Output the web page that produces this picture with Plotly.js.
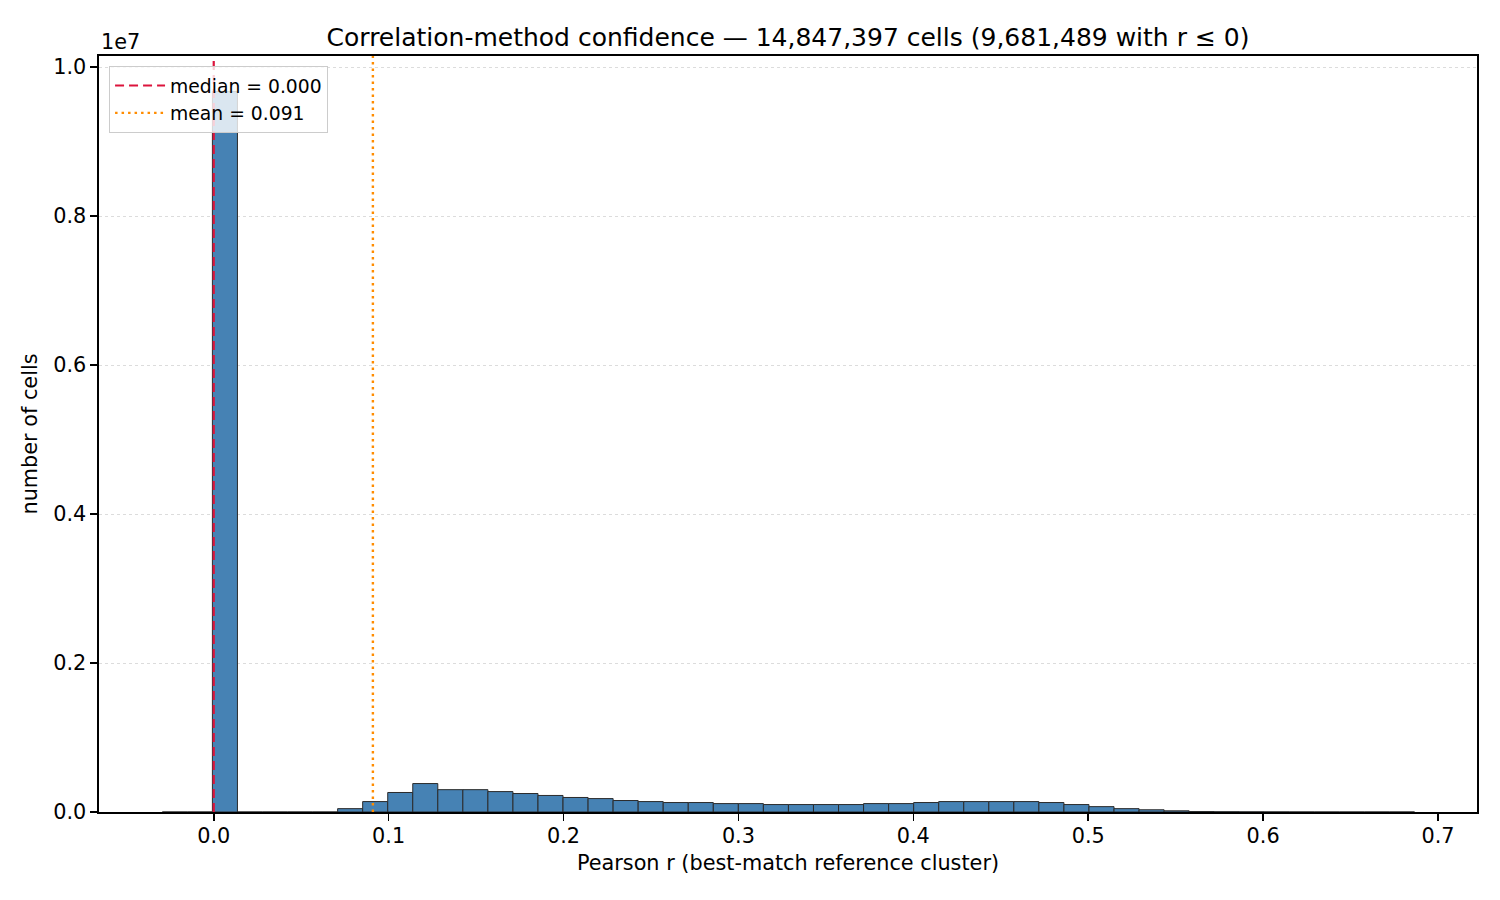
<!DOCTYPE html>
<html>
<head>
<meta charset="utf-8">
<script src="https://cdn.plot.ly/plotly-3.0.1.min.js"></script>
<style>
  html, body { margin: 0; padding: 0; background: #fff; }
  #chart { width: 1500px; height: 900px; }
</style>
</head>
<body>
<div id="chart"></div>
<script>
// histogram of best-match Pearson r, 50 equal bins
var binStart = -0.0294;
var binWidth = 0.01432;
var binCounts = [
  0, 0, 9675000, 0, 0, 0, 0, 45000, 140000, 262000,
  382000, 300000, 300000, 274000, 248000, 222000, 195000, 180000, 154000, 140000,
  127000, 127000, 113000, 113000, 100000, 100000, 100000, 100000, 113000, 113000,
  127000, 140000, 140000, 140000, 140000, 127000, 100000, 72000, 45000, 30000,
  16000, 6000, 3000, 1500, 800, 300, 0, 0, 0, 0
];

var medianR = 0.000;
var meanR = 0.091;

var xTickVals = [0, 0.1, 0.2, 0.3, 0.4, 0.5, 0.6, 0.7];
var xTickText = ['0.0', '0.1', '0.2', '0.3', '0.4', '0.5', '0.6', '0.7'];
var yTickVals = [0, 2e6, 4e6, 6e6, 8e6, 1e7];
var yTickText = ['0.0', '0.2', '0.4', '0.6', '0.8', '1.0'];

var xRange = [-0.0656, 0.7223];
var yRange = [0, 10150000];

var FONT = 'DejaVu Sans, Verdana, sans-serif';

var centers = binCounts.map(function (c, i) { return binStart + binWidth * (i + 0.5); });

var bars = {
  type: 'bar',
  x: centers,
  y: binCounts,
  width: binWidth,
  marker: { color: '#4682b4', line: { color: '#2b2b2b', width: 1 } },
  showlegend: false,
  hoverinfo: 'x+y'
};

var medianLine = {
  type: 'scatter',
  mode: 'lines',
  x: [medianR, medianR],
  y: yRange,
  name: 'median = ' + medianR.toFixed(3),
  line: { color: '#dc143c', width: 2.2, dash: '9px,5px' }
};

var meanLine = {
  type: 'scatter',
  mode: 'lines',
  x: [meanR, meanR],
  y: yRange,
  name: 'mean = ' + meanR.toFixed(3),
  line: { color: '#ff8c00', width: 2.4, dash: '2.5px,4px' }
};

var layout = {
  width: 1500,
  height: 900,
  margin: { l: 99, r: 23, t: 56, b: 88 },
  paper_bgcolor: '#ffffff',
  plot_bgcolor: '#ffffff',
  font: { family: FONT, size: 20.8, color: '#000' },
  bargap: 0,
  title: {
    text: 'Correlation-method confidence \u2014 14,847,397 cells (9,681,489 with r \u2264 0)',
    font: { family: FONT, size: 25, color: '#000' },
    x: 0.5, xref: 'paper', xanchor: 'center',
    y: 1 - 37 / 900, yref: 'container', yanchor: 'middle'
  },
  xaxis: {
    range: xRange,
    tickvals: xTickVals,
    ticktext: xTickText,
    ticks: 'outside', ticklen: 7, tickwidth: 1.6, tickcolor: '#000',
    ticklabelstandoff: -3,
    showline: true, linecolor: '#000', linewidth: 1.6, mirror: true,
    showgrid: false, zeroline: false,
    tickfont: { family: FONT, size: 20.8 },
    title: { text: 'Pearson r (best-match reference cluster)', font: { family: FONT, size: 20.8 }, standoff: 9 }
  },
  yaxis: {
    range: yRange,
    tickvals: yTickVals,
    ticktext: yTickText,
    ticks: 'outside', ticklen: 7, tickwidth: 1.6, tickcolor: '#000',
    showline: true, linecolor: '#000', linewidth: 1.6, mirror: true,
    showgrid: true, gridcolor: '#dcdcdc', gridwidth: 1, griddash: 'dot',
    zeroline: false,
    tickfont: { family: FONT, size: 20.8 },
    title: { text: 'number of cells', font: { family: FONT, size: 20.8 }, standoff: 10 }
  },
  legend: {
    x: 0.0073, y: 0.987, xanchor: 'left', yanchor: 'top',
    bgcolor: 'rgba(255,255,255,0.8)',
    bordercolor: '#cccccc', borderwidth: 1,
    itemwidth: 50,
    font: { family: FONT, size: 18.75, color: '#000' }
  },
  annotations: [{
    text: '1e7',
    xref: 'paper', yref: 'paper',
    x: 0, y: 1, xanchor: 'left', yanchor: 'bottom',
    showarrow: false,
    font: { family: FONT, size: 20.8, color: '#000' }
  }]
};

Plotly.newPlot('chart', [bars, medianLine, meanLine], layout, { displayModeBar: false, staticPlot: true });
</script>
</body>
</html>
